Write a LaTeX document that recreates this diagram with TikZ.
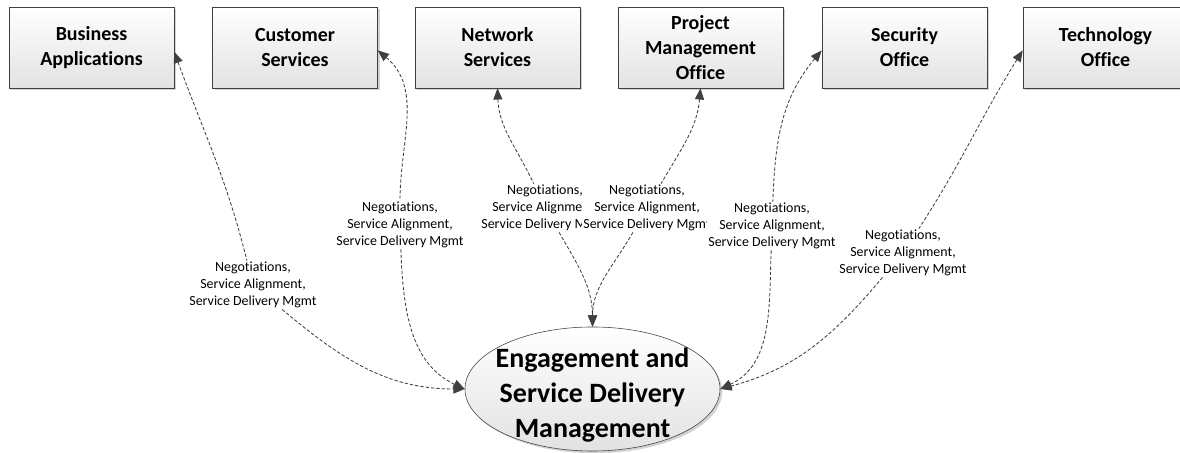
\documentclass[tikz,border=0pt]{standalone}
\usepackage{fontspec}
\setmainfont[Ligatures=NoCommon]{Carlito}
\usepackage{tikz}
\usetikzlibrary{positioning,arrows.meta,shapes.geometric,shadows}
\definecolor{edge1}{HTML}{404040}
\definecolor{fill1}{HTML}{E2E2E2}

\begin{document}
\begin{tikzpicture}[x=0.025cm, y=0.025cm,
    >={Triangle[length=8pt,width=6.5pt]},
    unit/.style={draw=edge1, top color=white, bottom color=fill1,
                 minimum width=4.125cm, minimum height=2.025cm,
                 inner sep=0pt, align=center,
                 font=\fontsize{14.2}{17.8}\selectfont\bfseries,
                 drop shadow={shadow xshift=1.6pt, shadow yshift=-1.6pt,
                 opacity=.35}},
    hub/.style={ellipse, draw=edge1, top color=white, bottom color=fill1,
                minimum width=6.375cm, minimum height=3.1cm, inner sep=0pt,
                drop shadow={shadow xshift=1.6pt, shadow yshift=-1.6pt,
                opacity=.35}},
    hubtext/.style={align=center, inner sep=0pt,
                    font=\fontsize{19.9}{24.9}\selectfont\bfseries},
    note/.style={fill=white, align=center, inner sep=1pt,
                 font=\fontsize{9.9}{11.9}\selectfont},
    link/.style={draw=edge1, line width=0.6pt,
                 dash pattern=on 2.4pt off 1.4pt},
]
\useasboundingbox (0,0) rectangle (1180,453);

\node[unit] (ba) at (91.5,405.5) {Business\\Applications};
\node[unit] (cs) at (295,405.5) {Customer\\Services};
\node[unit] (ns) at (497.5,405.5) {Network\\Services};
\node[unit] (pmo) at (700.5,405.5) {Project\\Management\\Office};
\node[unit] (sec) at (904.5,405.5) {Security\\Office};
\node[unit] (tech) at (1105.5,405.5) {Technology\\Office};

\node[hub] (esd) at (592.5,64) {};
\node[hubtext] (esdtext) at (592.5,58) {Engagement and\\Service Delivery\\Management};

\node[note] (n1) at (253,168) {Negotiations,\\Service Alignment,\\Service Delivery Mgmt};
\node[note] (n2) at (400,228) {Negotiations,\\Service Alignment,\\Service Delivery Mgmt};
\node[note] (n3) at (545,245) {Negotiations,\\Service Alignment,\\Service Delivery Mgmt};
\node[note] (n4) at (647,245) {Negotiations,\\Service Alignment,\\Service Delivery Mgmt};
\node[note] (n5) at (772,227) {Negotiations,\\Service Alignment,\\Service Delivery Mgmt};
\node[note] (n6) at (903,200) {Negotiations,\\Service Alignment,\\Service Delivery Mgmt};

\draw[link,<-] (ba.-3) to[out=-70,in=104] (n1);
\draw[link,->] (n1) to[out=-40,in=180] (esd.west);
\draw[link,<-] (cs.-2) to[out=-40,in=90] (n2);
\draw[link,->] (n2) to[out=-88,in=155] (esd.west);
\draw[link,<-] (ns.south) to[out=-88,in=115] (n3);
\draw[link,->] (n3) to[out=-60,in=90] (esd.north);
\draw[link,<-] (pmo.south) to[out=-95,in=60] (n4);
\draw[link,->] (n4) to[out=-120,in=90] (esd.north);
\draw[link,<-] (sec.182) to[out=-130,in=88] (n5);
\draw[link,->] (n5) to[out=-92,in=25] (esd.east);
\draw[link,<-] (tech.182) to[out=-122,in=57] (n6);
\draw[link,->] (n6) to[out=-130,in=15] (esd.east);
\end{tikzpicture}
\end{document}
